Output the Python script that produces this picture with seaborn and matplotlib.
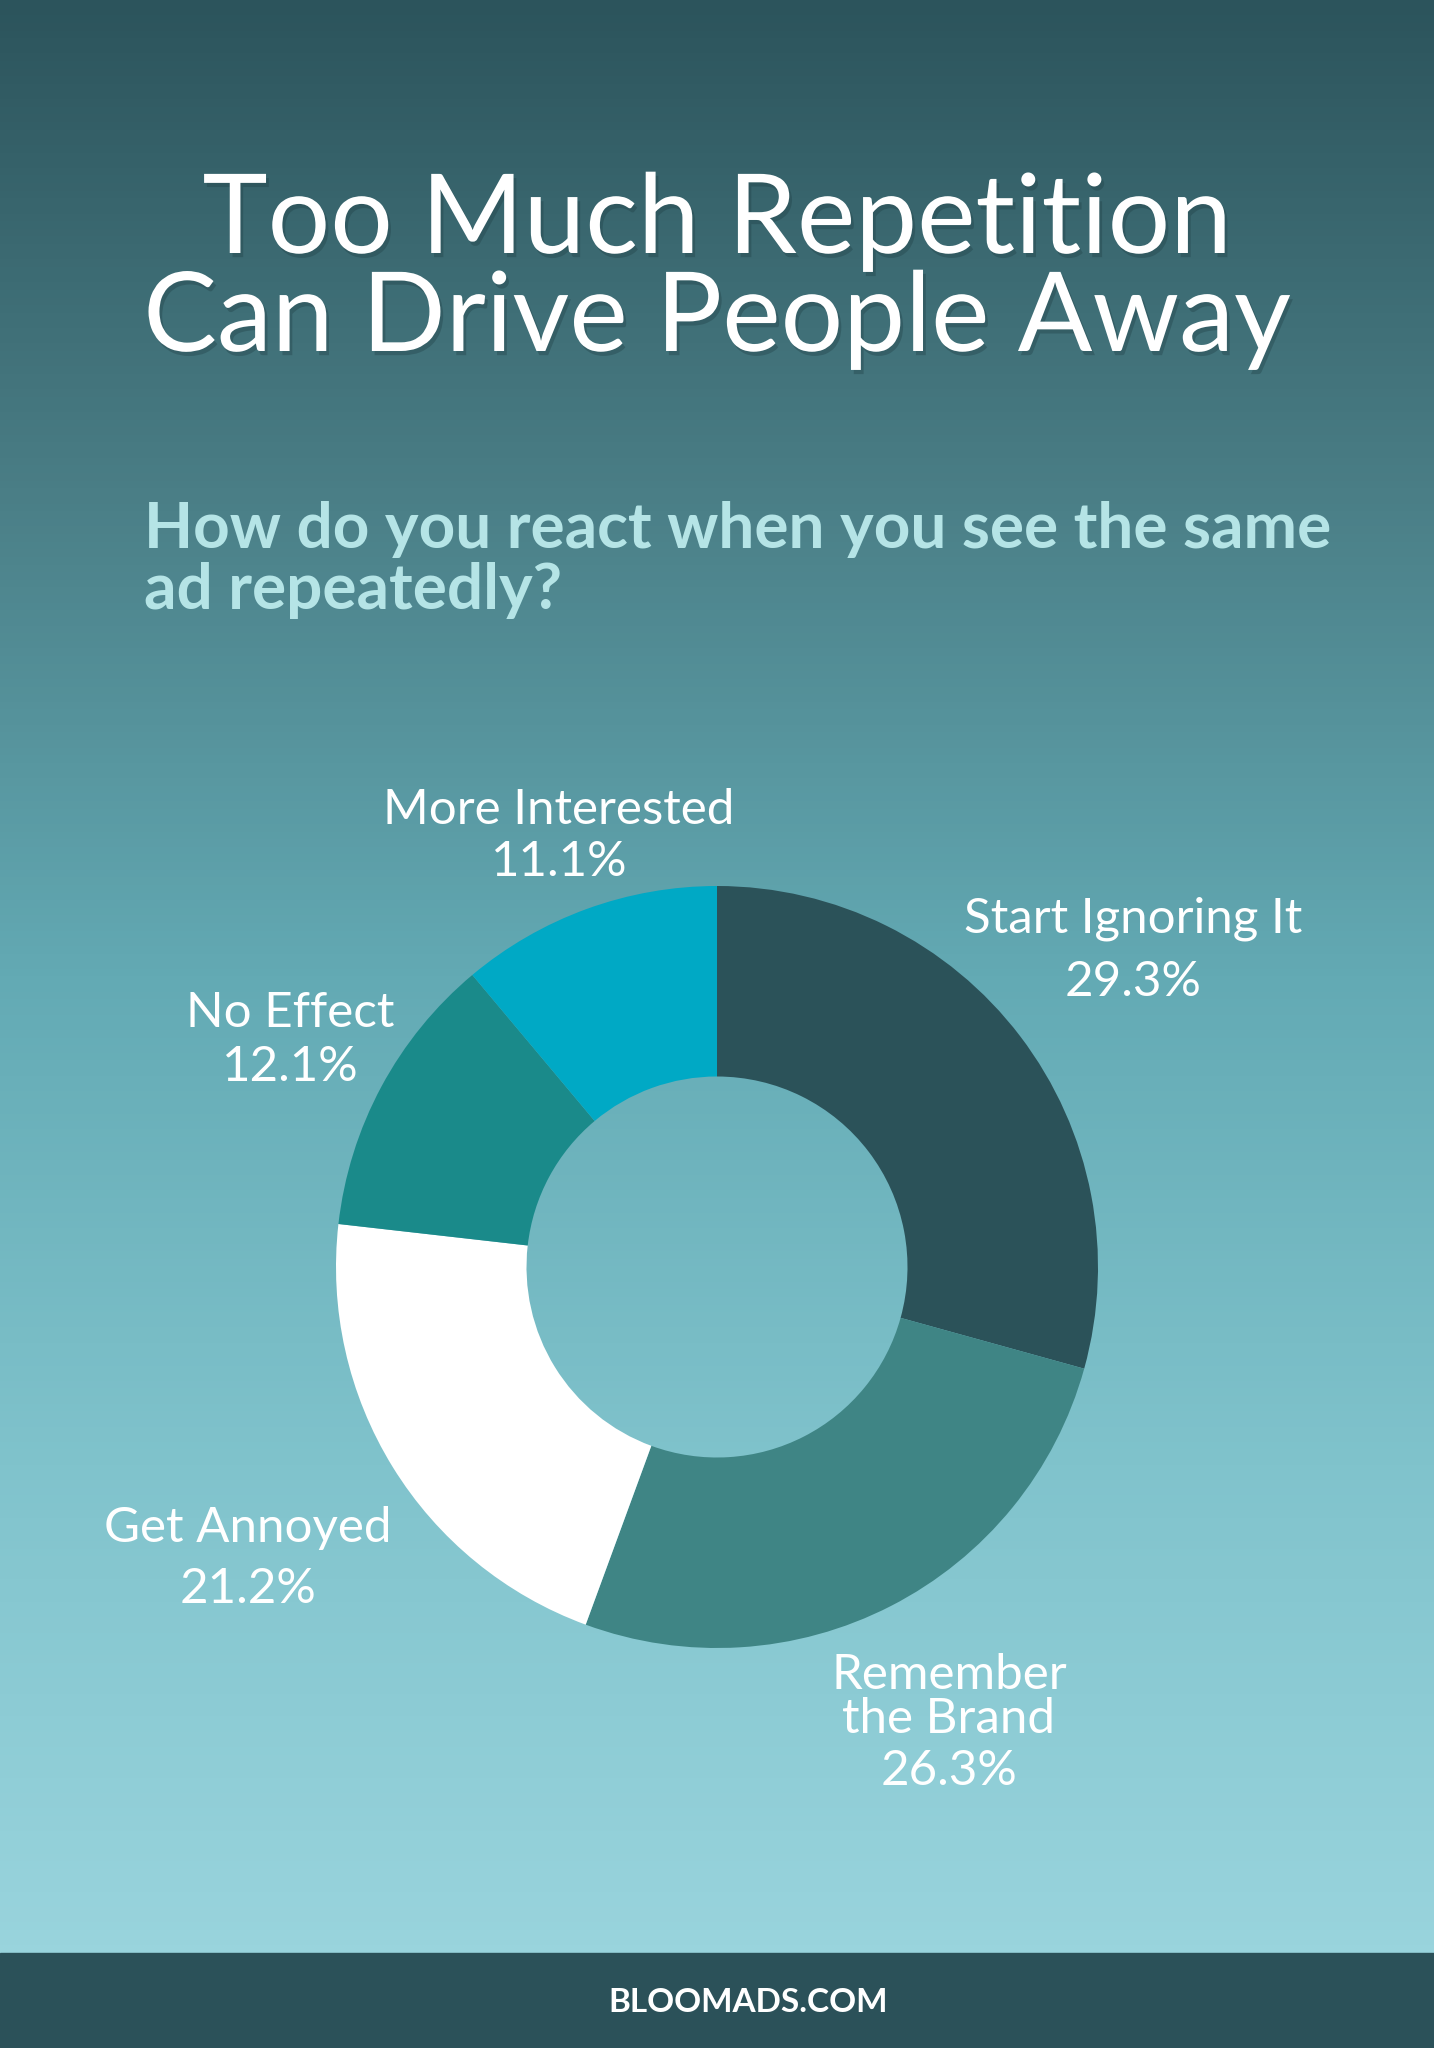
import numpy as np
import matplotlib
matplotlib.use("Agg")
import matplotlib.pyplot as plt
import matplotlib.patheffects as pe
from matplotlib.colors import LinearSegmentedColormap
import seaborn as sns

# ---- data ----
categories = ["Start Ignoring It", "Remember\nthe Brand", "Get Annoyed", "No Effect", "More Interested"]
values = [29.3, 26.3, 21.2, 12.1, 11.1]
slice_colors = ["#2B5259", "#3F8585", "#FFFFFF", "#1A8A8A", "#00A9C5"]
title_lines = ["Too Much Repetition", "Can Drive People Away"]
subtitle_text = "How do you react when you see the same\nad repeatedly?"
footer_text = "BLOOMADS.COM"

sns.set_theme(style="white")
plt.rcParams['font.family'] = ['Lato', 'DejaVu Sans']

W, H = 1434, 2048
fig = plt.figure(figsize=(W / 100, H / 100), dpi=100)

# background gradient
bg = fig.add_axes([0, 0, 1, 1], zorder=0)
cmap = LinearSegmentedColormap.from_list(
    "bg", [(0, "#2C545C"), (0.25, "#4A7E86"), (0.5, "#63AAB4"), (0.75, "#80C3CC"), (1, "#99D4DD")])
grad = np.linspace(0, 1, 512).reshape(-1, 1)
bg.imshow(grad, aspect="auto", cmap=cmap, extent=[0, 1, 95 / H, 1], origin="upper")
bg.add_patch(plt.Rectangle((0, 0), 1, 95 / H, color="#2B5159", zorder=2))
bg.set_xlim(0, 1)
bg.set_ylim(0, 1)
bg.axis("off")

def fx(px):
    return px / W

def fy(py):
    return 1 - py / H

# title
shadow = [pe.withSimplePatchShadow(offset=(2, -3), shadow_rgbFace="#1F3E44", alpha=0.35)]
for line, py in zip(title_lines, [222, 320]):
    fig.text(fx(717), fy(py), line, ha="center", va="center", fontsize=79.5,
             color="white", zorder=5, path_effects=shadow)

# subtitle
fig.text(fx(144), fy(560), subtitle_text, ha="left", va="center", fontsize=46,
         fontweight="bold", color="#B5E4E6", linespacing=1.1, zorder=5)

# donut
cx, cy, r = 717, 1267, 381
ax = fig.add_axes([(cx - r) / W, (H - cy - r) / H, 2 * r / W, 2 * r / H], zorder=3)
ax.pie(values, colors=slice_colors, startangle=90, counterclock=False, radius=1,
       wedgeprops=dict(width=0.5, linewidth=0))
ax.set_xlim(-1, 1)
ax.set_ylim(-1, 1)
ax.set_aspect("equal")
ax.axis("off")
ax.patch.set_alpha(0)

# labels: (x, name y, percent y) in pixels
label_pos = [(1133, 919, 982), (949, 1697, 1771), (248, 1528, 1589), (290, 1013, 1067), (559, 810, 862)]
for cat, v, (px, py1, py2) in zip(categories, values, label_pos):
    fig.text(fx(px), fy(py1), cat, ha="center", va="center", fontsize=35.5,
             color="white", linespacing=1.0, zorder=5)
    fig.text(fx(px), fy(py2), f"{v}%", ha="center", va="center", fontsize=35.5,
             color="white", zorder=5)

# footer
fig.text(fx(748), fy(2002), footer_text, ha="center", va="center", fontsize=24,
         fontweight="bold", color="white", zorder=5)

fig.savefig("out.png", dpi=100)
